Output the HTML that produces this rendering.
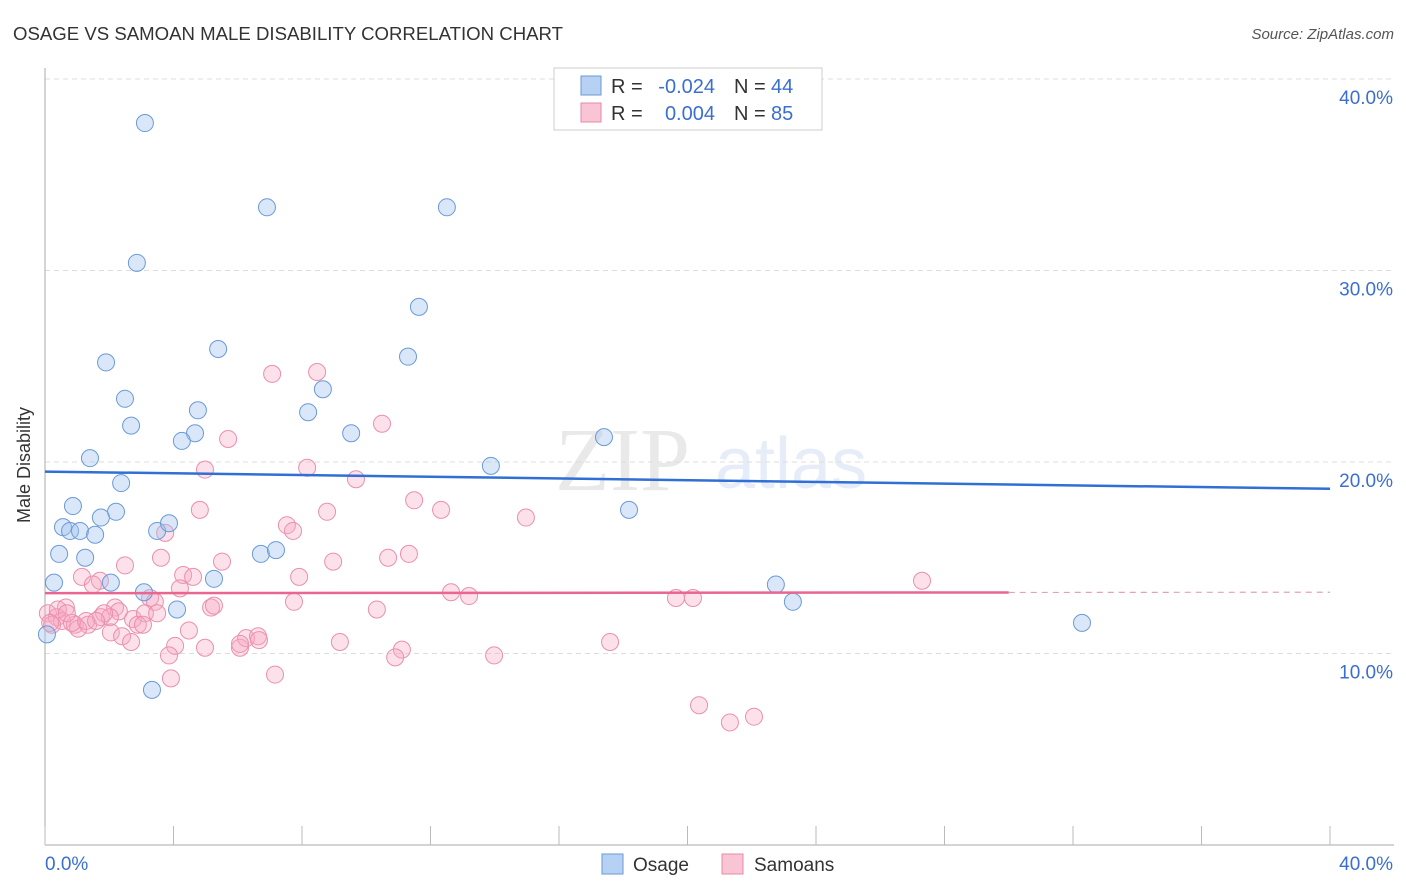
<!DOCTYPE html>
<html><head><meta charset="utf-8"><style>
body{margin:0;background:#fff;font-family:"Liberation Sans",sans-serif;}
svg{display:block}
</style></head><body>
<svg id="chart" width="1406" height="892" font-family="Liberation Sans, sans-serif">
<text x="13" y="40" font-size="18" fill="#333" textLength="550" lengthAdjust="spacingAndGlyphs">OSAGE VS SAMOAN MALE DISABILITY CORRELATION CHART</text>
<text x="1394" y="39" font-size="15" fill="#555" font-style="italic" text-anchor="end">Source: ZipAtlas.com</text>
<g opacity="0.12">
<text x="555" y="490" font-size="90" font-family="Liberation Serif, serif" fill="#555">ZIP</text>
<text x="715" y="488" font-size="72" fill="#3a6fd0">atlas</text>
</g>
<g id="grid"></g>
<g id="axes"></g>
<g id="pts"></g>
<g id="trends"></g>
<text x="20" y="455" font-size="18" fill="#333" transform="rotate(-90 30 455)" text-anchor="middle">Male Disability</text>
<g font-size="20">
<rect x="554" y="68" width="268" height="62" fill="#fff" stroke="#ccc"/>
<rect x="581" y="76" width="20" height="19" fill="#b6d1f3" stroke="#6a9ad8"/>
<rect x="581" y="103" width="20" height="19" fill="#f9c5d4" stroke="#e889a8"/>
<text x="611" y="93" fill="#333">R =</text>
<text x="715" y="93" fill="#3a6fd0" text-anchor="end">-0.024</text>
<text x="734" y="93" fill="#333">N =</text>
<text x="771" y="93" fill="#3a6fd0">44</text>
<text x="611" y="120" fill="#333">R =</text>
<text x="715" y="120" fill="#3a6fd0" text-anchor="end">0.004</text>
<text x="734" y="120" fill="#333">N =</text>
<text x="771" y="120" fill="#3a6fd0">85</text>
</g>
<g>
<rect x="602" y="854" width="21" height="20" fill="#b6d1f3" stroke="#6a9ad8"/>
<text x="633" y="871" font-size="19" fill="#333">Osage</text>
<rect x="722" y="854" width="21" height="20" fill="#f9c5d4" stroke="#e889a8"/>
<text x="754" y="871" font-size="19" fill="#333">Samoans</text>
</g>
</svg>
<script>
const yTicks=[10,20,30,40];
const yTickLabels=["10.0%","20.0%","30.0%","40.0%"];
const xAxisLabels=["0.0%","40.0%"];
const osageX=[3.11,6.91,12.51,2.86,11.64,1.90,5.39,11.30,8.65,2.49,4.76,8.19,2.68,4.67,4.26,9.53,17.40,1.40,13.88,2.37,0.87,2.21,1.74,0.56,0.78,1.09,1.56,3.49,3.86,0.44,1.25,6.72,7.19,18.18,0.28,2.05,3.08,5.26,22.75,23.28,4.11,32.28,3.33,0.06];
const osageY=[37.7,33.3,33.3,30.4,28.1,25.2,25.9,25.5,23.8,23.3,22.7,22.6,21.9,21.5,21.1,21.5,21.3,20.2,19.8,18.9,17.7,17.4,17.1,16.6,16.4,16.4,16.2,16.4,16.8,15.2,15.0,15.2,15.4,17.5,13.7,13.7,13.2,13.9,13.6,12.7,12.3,11.6,8.1,11.0];
const samoanX=[7.07,8.47,10.49,5.70,4.98,8.16,9.68,11.49,4.82,8.78,12.33,14.97,7.53,7.72,3.74,3.61,5.51,10.68,11.33,8.97,2.49,1.15,1.71,1.49,4.30,4.61,4.20,7.91,12.64,13.20,19.64,20.17,27.30,3.27,3.42,7.75,10.33,0.65,2.18,2.30,5.17,5.26,0.09,0.37,0.53,0.93,1.34,1.03,1.74,2.02,2.74,3.11,3.49,2.89,0.22,0.84,4.48,2.05,2.40,2.68,4.05,4.98,6.07,6.26,6.63,6.66,9.18,11.11,10.90,13.98,17.59,3.86,3.92,7.16,20.36,21.32,22.07,0.40,0.16,0.68,3.05,6.07,1.84,1.28,1.59];
const samoanY=[24.6,24.7,22.0,21.2,19.6,19.7,19.1,18.0,17.5,17.4,17.5,17.1,16.7,16.4,16.3,15.0,14.8,15.0,15.2,14.8,14.6,14.0,13.8,13.6,14.1,14.0,13.4,14.0,13.2,13.0,12.9,12.9,13.8,12.9,12.7,12.7,12.3,12.4,12.4,12.2,12.4,12.5,12.1,11.9,11.7,11.5,11.5,11.3,11.9,11.9,11.8,12.1,12.1,11.5,11.5,11.6,11.2,11.1,10.9,10.6,10.4,10.3,10.3,10.8,10.9,10.7,10.6,10.2,9.8,9.9,10.6,9.9,8.7,8.9,7.3,6.4,6.7,12.3,11.6,12.1,11.5,10.5,12.1,11.7,11.7];
const osageTrend=[19.5,18.6];
const samoanTrend=[13.15,13.2];
const samoanSolidEnd=30;
const NS="http://www.w3.org/2000/svg";
const X0=45,X1=1330,Y0=845,Y40=79;
const sx=v=>X0+(X1-X0)*v/40;
const sy=v=>Y0-(Y0-Y40)*v/40;
function mk(tag,at,parent){const e=document.createElementNS(NS,tag);for(const k in at)e.setAttribute(k,at[k]);parent.appendChild(e);return e;}
const grid=document.getElementById('grid'),axes=document.getElementById('axes');
yTicks.forEach((t,i)=>{
 const l=mk('line',{x1:X0,x2:1394,y1:sy(t),y2:sy(t),stroke:'#ddd','stroke-dasharray':'5,4'},grid);
 
 
 const tx=mk('text',{x:1393,y:sy(t)+25,'font-size':19,fill:'#3a6fd0','text-anchor':'end'},axes);
 tx.textContent=yTickLabels[i];
 
 
});
mk('line',{x1:X0,x2:X0,y1:68,y2:Y0,stroke:'#aaa'},axes);
mk('line',{x1:X0,x2:1394,y1:Y0,y2:Y0,stroke:'#aaa'},axes);
for(let i=0;i<=10;i++){const x=sx(i*4);const t=mk('line',{x1:x,x2:x,y1:826,y2:Y0,stroke:'#bbb'},axes);
 
 }
const xl0=mk('text',{x:45,y:870,'font-size':19,fill:'#3a6fd0'},axes);xl0.textContent=xAxisLabels[0];


const xl1=mk('text',{x:1393,y:870,'font-size':19,fill:'#3a6fd0','text-anchor':'end'},axes);xl1.textContent=xAxisLabels[1];


const pts=document.getElementById('pts');
samoanX.forEach((x,i)=>{const c=mk('circle',{cx:sx(x),cy:sy(samoanY[i]),r:8.5,fill:'rgba(246,170,195,0.35)',stroke:'#eb8fac','stroke-width':1},pts);
 
 });
osageX.forEach((x,i)=>{const c=mk('circle',{cx:sx(x),cy:sy(osageY[i]),r:8.5,fill:'rgba(160,195,240,0.4)',stroke:'#6a9ad8','stroke-width':1},pts);
 
 });
const tr=document.getElementById('trends');
const b=mk('line',{x1:sx(0),x2:sx(40),y1:sy(osageTrend[0]),y2:sy(osageTrend[1]),stroke:'#2f6fd6','stroke-width':2.5},tr);


const pm=samoanTrend[0]+(samoanTrend[1]-samoanTrend[0])*samoanSolidEnd/40;
const p=mk('line',{x1:sx(0),x2:sx(samoanSolidEnd),y1:sy(samoanTrend[0]),y2:sy(pm),stroke:'#e8668f','stroke-width':2.5},tr);


const pd=mk('line',{x1:sx(samoanSolidEnd),x2:sx(40),y1:sy(pm),y2:sy(samoanTrend[1]),stroke:'#e8a0b6','stroke-width':1.2,'stroke-dasharray':'6,5'},tr);


</script>
</body></html>
